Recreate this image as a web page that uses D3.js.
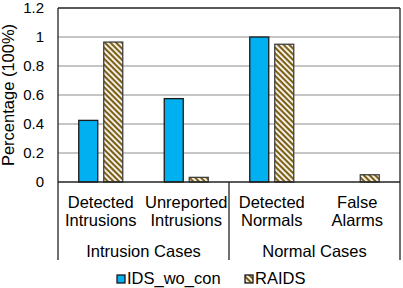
<!DOCTYPE html>
<html>
<head>
<meta charset="utf-8">
<script src="https://d3js.org/d3.v7.min.js"></script>
<style>
  body { margin: 0; background: #fff; }
  svg text { font-family: "Liberation Sans", Arial, sans-serif; fill: #000; }
</style>
</head>
<body>
<div id="chart"></div>
<script>
// data
const categories = ["Detected Intrusions", "Unreported Intrusions", "Detected Normals", "False Alarms"];
const categoryLines = [["Detected", "Intrusions"], ["Unreported", "Intrusions"], ["Detected", "Normals"], ["False", "Alarms"]];
const groups = ["Intrusion Cases", "Normal Cases"];
const groupOf = [0, 0, 1, 1];
const series = ["IDS_wo_con", "RAIDS"];
const idsValues = [0.425, 0.575, 1.0, 0];
const raidsValues = [0.965, 0.032, 0.95, 0.05];
const yTicks = [0, 0.2, 0.4, 0.6, 0.8, 1, 1.2];

const width = 403, height = 288;
const margin = {left: 58, right: 3, top: 8, bottom: 106};

const svg = d3.select("#chart")
  .append("svg")
  .attr("width", width)
  .attr("height", height);

// diagonal stripes for RAIDS bars
const defs = svg.append("defs");
const pat = defs.append("pattern")
  .attr("id", "stripes")
  .attr("patternUnits", "userSpaceOnUse")
  .attr("width", 4)
  .attr("height", 4)
  .attr("patternTransform", "rotate(45)");
pat.append("rect").attr("width", 4).attr("height", 4).attr("fill", "#fff");
pat.append("rect").attr("width", 4).attr("height", 2.2).attr("fill", "#7d6016");

const x0 = d3.scaleBand()
  .domain(categories)
  .range([margin.left, width - margin.right]);

const bw = x0.bandwidth();
const x1 = d3.scaleBand()
  .domain(series)
  .range([bw / 2 - 22, bw / 2 + 22])
  .paddingInner(0.24);

const y = d3.scaleLinear()
  .domain([0, 1.2])
  .range([height - margin.bottom, margin.top]);

// gridlines
svg.append("g")
  .selectAll("line")
  .data(yTicks.filter(d => d > 0 && d < 1.2))
  .enter().append("line")
  .attr("x1", margin.left)
  .attr("x2", width - margin.right)
  .attr("y1", d => y(d))
  .attr("y2", d => y(d))
  .attr("stroke", "#8c8c8c")
  .attr("stroke-width", 1);

// y tick labels
svg.append("g")
  .selectAll("text")
  .data(yTicks)
  .enter().append("text")
  .attr("x", 44)
  .attr("y", d => y(d) + 5)
  .attr("text-anchor", "end")
  .style("font-size", "15px")
  .text(d => d);

// y title
svg.append("text")
  .attr("transform", `translate(14,${(y(0) + y(1.2)) / 2}) rotate(-90)`)
  .attr("text-anchor", "middle")
  .style("font-size", "16.5px")
  .text("Percentage (100%)");

// bars
const rows = categories.map((c, i) => ({cat: c, vals: [idsValues[i], raidsValues[i]]}));
const cat = svg.append("g")
  .selectAll("g")
  .data(rows)
  .enter().append("g")
  .attr("transform", d => `translate(${x0(d.cat)},0)`);

cat.selectAll("rect")
  .data(d => d.vals.map((v, j) => ({s: series[j], v: v})).filter(d => d.v > 0))
  .enter().append("rect")
  .attr("x", d => x1(d.s))
  .attr("width", x1.bandwidth())
  .attr("y", d => y(d.v))
  .attr("height", d => y(0) - y(d.v))
  .attr("fill", d => d.s === "RAIDS" ? "url(#stripes)" : "#00b0f0")
  .attr("stroke", d => d.s === "RAIDS" ? "#404040" : "#1a1a1a")
  .attr("stroke-width", 1.3);

// frame: top line, zero line
svg.append("line")
  .attr("x1", margin.left).attr("x2", width - margin.right)
  .attr("y1", y(1.2)).attr("y2", y(1.2))
  .attr("stroke", "#222").attr("stroke-width", 1.3);
svg.append("line")
  .attr("x1", margin.left).attr("x2", width - margin.right)
  .attr("y1", y(0)).attr("y2", y(0))
  .attr("stroke", "#222").attr("stroke-width", 1.3);

// vertical separators (left, between groups, right) running down under the labels
const sepX = [x0(categories[0]), x0(categories[2]), x0(categories[3]) + bw];
svg.append("g")
  .selectAll("line")
  .data(sepX)
  .enter().append("line")
  .attr("x1", d => d).attr("x2", d => d)
  .attr("y1", (d, i) => i === 1 ? y(0) : y(1.2))
  .attr("y2", 260)
  .attr("stroke", "#222")
  .attr("stroke-width", 1.3);

// category labels
const lab = svg.append("g")
  .selectAll("text")
  .data(categories)
  .enter().append("text")
  .attr("text-anchor", "middle")
  .style("font-size", "16.5px");
lab.selectAll("tspan")
  .data((d, i) => categoryLines[i].map(t => ({t: t, x: x0(d) + bw / 2})))
  .enter().append("tspan")
  .attr("x", d => d.x)
  .attr("y", (d, i) => 208 + i * 18)
  .text(d => d.t);

// group labels
svg.append("g")
  .selectAll("text")
  .data(groups)
  .enter().append("text")
  .attr("x", (g, gi) => {
    const idx = categories.filter((c, i) => groupOf[i] === gi);
    return (x0(idx[0]) + x0(idx[idx.length - 1]) + bw) / 2;
  })
  .attr("y", 257)
  .attr("text-anchor", "middle")
  .style("font-size", "16.5px")
  .text(d => d);

// legend
const legX = [117, 245];
const leg = svg.append("g")
  .selectAll("g")
  .data(series)
  .enter().append("g")
  .attr("transform", (d, i) => `translate(${legX[i]},275)`);
leg.append("rect")
  .attr("width", 8).attr("height", 8)
  .attr("fill", d => d === "RAIDS" ? "url(#stripes)" : "#00b0f0")
  .attr("stroke", "#1a1a1a")
  .attr("stroke-width", 1.3);
leg.append("text")
  .attr("x", 10)
  .attr("y", 8.5)
  .style("font-size", "16.5px")
  .text(d => d);
</script>
</body>
</html>
